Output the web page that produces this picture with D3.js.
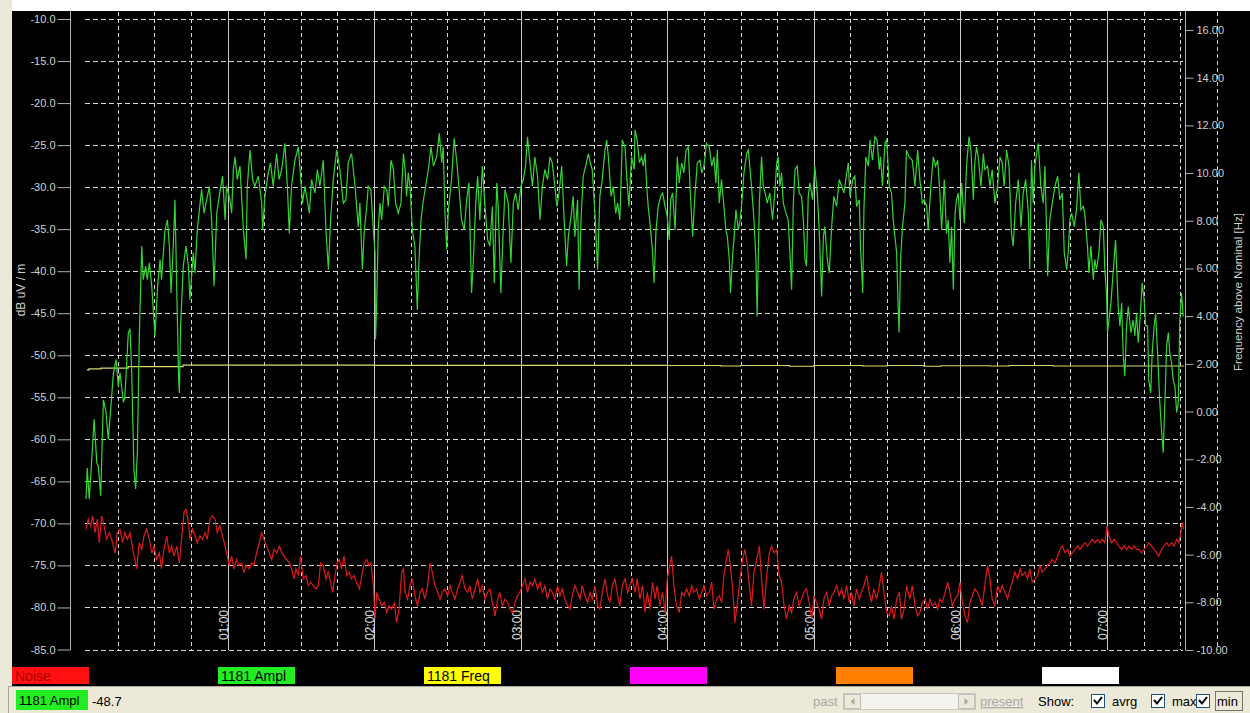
<!DOCTYPE html>
<html>
<head>
<meta charset="utf-8">
<script src="https://cdn.jsdelivr.net/npm/d3@7"></script>
<style>
  body { margin: 0; background: #fff; }
  text { font-family: "Liberation Sans", Arial, sans-serif; }
</style>
</head>
<body>
<div id="graph"></div>
<script>
const width = 1250;
const height = 713;

// minutes after 00:00, dB uV/m
const amplData = [
  [2.1,-67.1],[2.6,-63.4],[3.4,-67.1],[4.1,-64.0],[5.4,-57.6],[6.5,-62.8],[7.1,-63.2],[8.1,-66.7],[9.2,-55.3],[10.3,-56.8],
  [11.2,-60.0],[12.2,-56.4],[13.3,-52.1],[14.4,-50.5],[15.3,-53.7],[16.0,-52.1],[17.4,-55.6],[18.0,-54.9],[19.4,-47.3],[20.1,-46.9],
  [20.8,-52.1],[21.7,-63.6],[22.4,-65.9],[23.1,-61.6],[23.9,-47.7],[24.9,-37.0],[25.5,-41.0],[26.5,-39.4],[27.2,-41.0],[28.0,-39.0],
  [29.0,-41.8],[30.3,-47.7],[31.4,-41.8],[32.4,-38.6],[33.0,-41.0],[34.4,-35.1],[35.4,-33.9],[36.2,-37.0],[36.9,-42.6],[37.8,-37.0],
  [38.5,-31.5],[39.2,-41.8],[40.0,-52.9],[40.3,-54.5],[40.8,-46.5],[41.9,-39.4],[43.0,-37.0],[44.0,-39.4],[44.6,-43.4],[46.0,-37.8],
  [46.7,-40.2],[47.6,-35.1],[49.4,-30.3],[50.4,-33.1],[51.2,-31.9],[52.6,-29.9],[53.5,-33.9],[54.5,-41.8],[55.6,-33.1],[56.6,-31.1],
  [58.0,-28.7],[59.0,-33.9],[59.6,-29.9],[61.0,-31.5],[61.7,-33.1],[62.4,-27.9],[63.1,-26.4],[64.0,-29.1],[65.1,-27.5],[66.5,-35.1],
  [67.6,-38.6],[68.1,-29.9],[69.2,-25.6],[70.3,-29.1],[71.2,-29.9],[72.6,-28.7],[74.0,-31.9],[74.4,-35.1],[75.3,-31.1],[76.7,-28.3],
  [77.6,-27.1],[78.7,-29.9],[80.1,-26.0],[81.1,-29.1],[82.2,-27.9],[83.5,-24.8],[84.5,-29.9],[85.3,-35.5],[86.2,-29.9],[87.6,-26.8],
  [89.0,-25.2],[90.7,-31.9],[91.7,-29.9],[93.5,-33.1],[94.4,-29.1],[95.8,-30.7],[96.8,-27.9],[97.8,-29.9],[99.2,-26.8],[100.3,-35.1],
  [101.3,-39.8],[102.2,-33.9],[103.3,-29.1],[104.7,-25.6],[106.0,-27.9],[107.4,-31.9],[108.5,-31.5],[109.4,-27.1],[110.8,-26.0],[112.2,-29.9],
  [113.5,-34.7],[114.2,-31.9],[115.2,-39.8],[116.0,-35.1],[117.0,-32.3],[117.6,-29.9],[118.7,-30.3],[119.7,-35.1],[120.4,-37.8],[120.6,-48.1],
  [121.1,-43.4],[121.7,-35.1],[122.4,-31.9],[123.1,-33.9],[124.2,-29.9],[125.2,-30.3],[125.8,-32.3],[126.9,-26.8],[127.9,-27.9],[128.8,-31.9],
  [129.9,-33.1],[131.0,-31.9],[132.0,-26.0],[132.7,-27.9],[133.3,-31.1],[134.0,-28.3],[134.7,-29.9],[135.7,-35.1],[136.7,-37.0],[137.7,-44.6],
  [138.4,-38.6],[139.2,-33.9],[140.2,-31.5],[141.1,-29.9],[142.2,-27.9],[143.3,-25.2],[144.3,-27.5],[145.6,-26.4],[146.7,-23.6],[147.7,-27.1],
  [148.3,-25.2],[149.0,-33.1],[149.7,-37.4],[150.4,-32.7],[151.7,-29.1],[152.8,-24.2],[153.8,-26.8],[154.7,-29.9],[155.8,-33.9],[156.9,-35.1],
  [157.9,-31.5],[158.8,-29.5],[159.9,-42.6],[160.6,-39.0],[161.6,-31.9],[162.4,-28.7],[163.3,-33.9],[164.3,-27.5],[165.4,-32.3],[166.5,-36.3],
  [167.4,-37.0],[168.4,-32.3],[169.2,-41.4],[170.2,-29.5],[170.8,-32.3],[171.9,-42.6],[172.9,-34.7],[173.6,-30.3],[174.9,-31.9],[176.0,-39.0],
  [177.0,-31.9],[177.9,-30.7],[179.0,-32.7],[180.1,-29.9],[181.1,-29.1],[182.0,-27.5],[182.8,-24.0],[183.8,-27.1],[184.8,-29.9],[185.8,-26.4],
  [186.9,-28.7],[187.9,-33.9],[188.9,-29.9],[189.9,-27.9],[191.0,-29.1],[192.0,-26.4],[192.9,-27.1],[194.0,-29.9],[194.8,-32.3],[195.7,-30.7],
  [196.8,-27.5],[197.8,-33.9],[198.8,-39.4],[199.5,-35.9],[200.6,-33.5],[201.5,-31.1],[202.2,-35.9],[203.3,-31.5],[203.9,-42.2],[204.7,-33.9],
  [205.6,-28.7],[206.6,-27.5],[207.7,-26.0],[208.5,-27.1],[209.3,-27.9],[210.4,-33.1],[211.5,-39.8],[212.4,-31.1],[213.4,-29.1],[214.5,-25.6],
  [215.2,-24.4],[215.9,-26.4],[217.0,-31.1],[217.9,-29.9],[218.9,-33.1],[219.7,-31.9],[220.6,-33.9],[221.6,-24.4],[222.7,-25.2],[223.4,-28.7],
  [224.3,-32.3],[225.4,-26.4],[226.5,-27.9],[226.8,-23.2],[227.7,-24.4],[228.6,-27.1],[229.5,-26.4],[230.2,-27.5],[230.9,-26.0],[231.6,-29.9],
  [232.2,-32.3],[233.2,-35.1],[234.0,-37.8],[234.6,-41.4],[235.4,-35.1],[236.3,-32.3],[237.3,-31.1],[238.1,-30.7],[239.1,-32.3],[240.0,-33.5],
  [240.8,-36.3],[241.4,-31.5],[242.2,-30.7],[243.2,-35.1],[244.1,-26.4],[244.9,-29.5],[245.9,-27.1],[246.8,-28.3],[247.7,-25.6],[248.6,-25.2],
  [249.3,-29.9],[250.4,-35.9],[251.3,-31.1],[252.3,-27.1],[253.4,-26.8],[254.1,-28.3],[255.0,-27.5],[256.1,-24.8],[257.2,-25.2],[258.2,-27.5],
  [259.1,-26.4],[259.9,-29.5],[260.5,-25.6],[261.3,-31.9],[262.2,-29.1],[263.2,-32.3],[264.0,-35.1],[264.6,-35.9],[265.4,-38.6],[265.9,-42.6],
  [266.8,-37.8],[267.3,-36.3],[268.1,-32.7],[269.1,-35.1],[269.8,-33.9],[270.4,-32.3],[271.4,-28.3],[272.5,-26.0],[273.2,-25.6],[273.9,-27.9],
  [274.5,-29.9],[275.5,-33.9],[276.3,-38.6],[276.8,-45.4],[277.7,-31.9],[278.6,-26.4],[279.3,-29.9],[280.4,-31.1],[280.9,-31.9],[282.0,-30.7],
  [283.1,-33.9],[284.1,-30.3],[284.8,-27.1],[285.4,-26.4],[286.1,-29.9],[286.8,-28.3],[287.5,-31.9],[288.6,-33.1],[289.5,-33.9],[290.2,-37.8],
  [290.9,-42.2],[291.6,-31.9],[292.3,-27.9],[293.2,-27.5],[294.0,-30.7],[295.0,-31.1],[295.7,-33.9],[296.4,-38.6],[297.0,-39.4],[297.7,-31.1],
  [298.4,-29.5],[299.5,-31.5],[300.4,-27.5],[301.4,-30.7],[302.2,-35.1],[303.2,-43.0],[303.9,-35.9],[304.5,-34.7],[305.5,-38.6],[306.3,-40.2],
  [307.3,-34.7],[308.2,-31.1],[309.3,-32.3],[310.4,-29.1],[311.4,-29.9],[312.3,-30.7],[313.1,-29.1],[314.1,-27.1],[314.8,-31.1],[315.9,-29.1],
  [316.8,-28.7],[317.5,-32.3],[318.6,-31.5],[319.1,-37.0],[320.0,-42.6],[320.5,-32.7],[321.3,-26.4],[322.3,-27.5],[323.0,-24.4],[324.0,-26.8],
  [325.0,-24.0],[325.9,-24.4],[326.8,-27.9],[327.3,-26.4],[328.1,-29.9],[329.1,-24.8],[329.8,-24.4],[330.9,-29.9],[331.8,-30.7],[332.5,-33.9],
  [333.2,-35.9],[333.9,-37.8],[334.5,-44.2],[334.9,-47.3],[335.5,-38.6],[336.3,-34.7],[337.3,-31.9],[337.9,-25.6],[339.0,-26.4],[340.3,-26.8],
  [341.4,-29.9],[342.5,-25.6],[343.4,-29.1],[344.4,-31.9],[345.2,-31.5],[346.2,-32.3],[346.8,-35.1],[347.9,-29.9],[348.9,-26.4],[349.8,-27.5],
  [350.7,-26.8],[351.6,-30.7],[352.3,-35.1],[353.4,-29.1],[354.3,-35.5],[355.0,-33.9],[355.7,-39.0],[356.4,-34.7],[357.1,-42.2],[357.8,-33.1],
  [358.4,-31.5],[359.1,-30.7],[359.8,-33.9],[360.5,-29.5],[361.6,-34.3],[362.5,-27.5],[363.5,-24.0],[364.3,-25.6],[365.3,-31.5],[365.9,-27.1],
  [366.6,-25.2],[367.3,-26.4],[368.4,-29.9],[369.4,-26.0],[370.0,-27.9],[371.1,-27.5],[372.1,-29.9],[373.0,-27.9],[374.1,-31.9],[375.2,-29.9],
  [376.2,-26.4],[377.1,-27.1],[377.9,-29.9],[378.9,-25.6],[379.9,-27.5],[380.9,-35.5],[381.6,-37.0],[382.6,-31.9],[383.7,-29.1],[384.8,-34.7],
  [385.7,-30.7],[386.7,-29.1],[387.8,-33.1],[388.4,-39.8],[389.1,-26.8],[389.8,-31.9],[390.5,-27.5],[391.2,-26.0],[391.9,-24.8],[392.9,-29.9],
  [393.9,-31.9],[394.6,-27.5],[395.7,-40.6],[396.6,-33.9],[397.6,-31.9],[398.7,-29.9],[399.8,-28.7],[400.7,-31.5],[401.7,-30.7],[402.5,-37.8],
  [403.5,-39.8],[404.1,-37.8],[404.8,-33.9],[405.5,-33.1],[406.6,-34.7],[407.5,-32.7],[408.5,-28.3],[409.3,-32.7],[410.3,-32.3],[410.9,-33.1],
  [412.0,-37.0],[412.6,-40.2],[413.4,-37.0],[414.4,-41.0],[415.0,-38.6],[415.7,-39.8],[416.7,-37.8],[417.5,-33.9],[418.5,-34.7],[419.1,-39.8],
  [419.8,-42.6],[420.2,-47.3],[420.8,-45.8],[421.6,-43.8],[422.6,-39.8],[423.5,-36.3],[424.6,-44.2],[425.3,-46.5],[426.0,-43.8],[426.6,-49.7],
  [427.3,-52.5],[428.0,-46.5],[428.7,-44.2],[429.8,-47.3],[430.7,-45.8],[431.4,-47.7],[432.1,-45.0],[432.8,-48.5],[433.5,-45.8],[434.4,-41.4],
  [435.2,-43.4],[435.8,-46.5],[436.6,-46.5],[437.1,-52.9],[437.9,-54.5],[438.5,-49.7],[439.3,-46.5],[439.9,-45.0],[440.7,-49.7],[441.6,-55.6],
  [442.3,-58.8],[443.0,-61.6],[443.7,-55.6],[444.4,-48.9],[445.1,-47.3],[445.7,-49.7],[446.4,-50.9],[447.1,-52.9],[447.8,-53.7],[448.5,-56.8],
  [449.2,-55.6],[449.8,-45.8],[450.5,-42.6],[451.2,-45.4]
];

// minutes after 00:00, dB uV/m
const noiseData = [
  [2.1,-70.7],[3.0,-69.5],[4.0,-70.3],[4.8,-69.1],[5.8,-71.1],[6.7,-69.5],[7.5,-72.3],[8.5,-69.1],[9.5,-70.3],[10.5,-71.9],
  [11.6,-71.1],[12.6,-71.9],[14.0,-73.5],[14.9,-71.1],[16.0,-70.7],[17.1,-72.3],[18.0,-71.1],[19.0,-71.9],[20.1,-71.1],[21.2,-73.1],
  [22.1,-74.3],[22.8,-75.4],[23.9,-72.3],[24.9,-73.1],[25.8,-71.5],[26.9,-70.7],[28.0,-71.9],[29.0,-73.5],[29.9,-72.7],[31.0,-74.3],
  [32.1,-73.5],[33.0,-75.4],[34.0,-73.1],[35.1,-71.5],[36.2,-73.5],[37.1,-72.7],[38.1,-73.9],[39.2,-72.7],[40.3,-74.7],[41.2,-71.9],
  [42.2,-68.7],[43.0,-68.3],[44.0,-69.9],[44.6,-71.9],[45.7,-70.7],[46.7,-71.5],[47.6,-72.3],[48.7,-71.5],[49.8,-71.9],[50.8,-71.1],
  [51.7,-71.9],[52.8,-69.5],[53.9,-69.1],[54.9,-69.5],[55.8,-71.1],[56.9,-70.3],[58.0,-71.5],[59.0,-72.7],[59.9,-73.9],[60.7,-75.0],
  [61.7,-73.9],[62.6,-75.4],[63.7,-74.3],[64.8,-75.0],[65.8,-74.7],[66.7,-75.8],[67.8,-75.0],[68.9,-75.4],[69.9,-74.7],[70.8,-75.0],
  [71.9,-73.5],[73.0,-72.3],[74.0,-71.1],[74.9,-71.9],[76.0,-72.7],[77.1,-73.5],[78.1,-74.3],[79.0,-73.1],[80.1,-73.5],[81.2,-72.7],
  [82.2,-73.5],[83.1,-73.9],[84.2,-74.3],[85.3,-74.7],[86.2,-75.4],[87.2,-76.6],[88.0,-75.4],[89.0,-76.2],[89.9,-73.9],[91.0,-76.6],
  [92.1,-76.2],[93.1,-77.4],[94.0,-77.0],[95.1,-77.4],[96.2,-77.8],[97.2,-77.4],[98.1,-74.7],[99.2,-75.0],[100.3,-76.6],[101.2,-75.8],
  [102.2,-77.0],[103.0,-78.2],[104.0,-76.2],[104.9,-74.7],[105.8,-74.3],[106.7,-75.4],[107.7,-73.9],[108.8,-76.2],[109.8,-75.8],[110.8,-76.6],
  [111.8,-76.2],[112.8,-77.0],[114.0,-77.8],[115.2,-75.8],[116.0,-74.7],[117.0,-74.3],[117.9,-75.0],[118.7,-74.7],[119.7,-77.4],[120.4,-81.4],
  [121.1,-78.2],[122.0,-79.0],[123.1,-79.8],[124.2,-79.4],[125.2,-80.6],[126.1,-79.8],[127.2,-80.2],[128.3,-79.4],[129.2,-81.8],[130.2,-80.2],
  [131.3,-75.8],[132.0,-75.4],[132.7,-78.2],[133.7,-79.0],[134.7,-77.4],[135.7,-76.6],[136.7,-78.6],[137.8,-79.8],[138.8,-78.2],[139.7,-77.8],
  [140.8,-79.0],[141.9,-77.4],[142.9,-74.7],[143.8,-75.8],[144.9,-77.4],[146.0,-78.2],[147.0,-79.0],[147.9,-78.2],[149.0,-77.8],[150.1,-78.6],
  [151.1,-77.4],[152.0,-78.2],[153.1,-79.0],[154.2,-77.8],[155.2,-77.0],[156.1,-76.2],[157.2,-77.8],[158.3,-78.2],[159.2,-77.4],[160.2,-79.0],
  [161.3,-77.8],[162.4,-76.6],[163.3,-78.2],[164.3,-77.4],[165.4,-79.0],[166.5,-78.2],[167.4,-77.8],[168.4,-79.4],[169.5,-81.0],[170.6,-79.0],
  [171.5,-78.2],[172.5,-79.8],[173.6,-79.0],[174.7,-79.4],[175.6,-80.2],[176.6,-80.6],[177.7,-79.4],[178.7,-78.6],[179.7,-78.2],[180.7,-77.4],
  [181.8,-76.6],[182.8,-78.2],[183.8,-77.0],[184.8,-77.4],[185.8,-76.6],[186.9,-77.8],[187.9,-77.0],[188.9,-78.2],[189.9,-77.4],[191.0,-79.0],
  [192.0,-77.8],[192.9,-78.2],[194.0,-79.0],[195.1,-77.4],[196.1,-78.6],[197.0,-77.8],[198.1,-79.0],[199.2,-79.8],[200.2,-80.2],[201.1,-78.6],
  [202.2,-77.4],[203.3,-78.2],[204.3,-79.0],[205.2,-77.4],[206.3,-78.6],[207.4,-79.4],[208.4,-78.2],[209.3,-79.0],[210.4,-77.4],[211.5,-79.8],
  [212.4,-80.2],[213.4,-78.2],[214.5,-76.6],[215.6,-78.6],[216.5,-79.4],[217.5,-77.4],[218.6,-76.6],[219.7,-78.6],[220.6,-79.8],[221.6,-77.4],
  [222.7,-76.6],[223.8,-78.2],[224.7,-77.4],[225.7,-76.6],[226.8,-78.2],[227.7,-76.6],[228.8,-79.0],[229.9,-77.4],[230.9,-80.6],[231.8,-78.2],
  [232.9,-80.2],[234.0,-77.0],[235.0,-79.0],[235.9,-77.4],[237.0,-79.8],[238.1,-78.2],[239.1,-80.6],[240.0,-76.6],[240.8,-75.4],[241.8,-73.9],
  [242.7,-77.4],[243.8,-79.8],[244.9,-80.6],[245.9,-78.2],[246.8,-78.6],[247.9,-77.8],[249.0,-78.6],[250.0,-77.4],[250.9,-78.2],[252.0,-77.8],
  [253.1,-79.0],[254.1,-78.2],[255.0,-77.4],[256.1,-78.6],[257.2,-78.2],[258.2,-77.0],[259.1,-80.2],[260.2,-79.0],[261.3,-78.6],[262.3,-79.4],
  [263.2,-76.2],[264.0,-74.7],[265.0,-73.1],[265.7,-74.7],[266.8,-77.8],[267.7,-81.8],[268.7,-79.4],[269.8,-76.6],[270.8,-74.3],[271.8,-73.1],
  [272.8,-75.0],[273.6,-77.4],[274.5,-79.8],[275.5,-75.8],[276.6,-74.3],[277.7,-72.7],[278.6,-76.6],[279.6,-80.2],[280.7,-76.2],[281.8,-73.5],
  [282.7,-72.7],[283.7,-73.5],[284.8,-73.1],[285.8,-76.2],[286.8,-77.0],[287.8,-79.8],[288.8,-81.4],[289.9,-79.8],[290.9,-80.6],[291.8,-79.0],
  [292.9,-78.2],[294.0,-79.8],[295.0,-79.0],[295.9,-78.2],[297.0,-77.8],[298.1,-79.4],[299.1,-81.4],[300.0,-78.6],[301.1,-79.4],[302.2,-80.2],
  [303.2,-81.4],[304.1,-79.0],[305.2,-78.2],[306.3,-79.8],[307.3,-78.6],[308.2,-78.2],[309.3,-77.4],[310.4,-78.6],[311.4,-77.8],[312.3,-79.0],
  [313.4,-77.4],[314.5,-79.4],[315.4,-78.2],[316.4,-79.8],[317.5,-77.8],[318.6,-79.0],[319.5,-78.2],[320.5,-77.4],[321.6,-76.2],[322.7,-78.2],
  [323.6,-79.4],[324.6,-77.8],[325.7,-79.0],[326.8,-77.4],[327.7,-75.8],[328.7,-78.2],[329.8,-80.6],[330.9,-81.0],[331.8,-79.8],[332.8,-81.4],
  [333.9,-79.0],[335.0,-78.2],[335.9,-81.4],[336.9,-80.2],[338.0,-77.4],[339.3,-79.0],[340.3,-77.4],[341.4,-79.8],[342.5,-81.0],[343.4,-80.6],
  [344.4,-79.4],[345.5,-79.0],[346.6,-80.2],[347.5,-79.0],[348.5,-79.8],[349.6,-79.4],[350.7,-80.2],[351.6,-79.0],[352.6,-79.4],[353.7,-78.2],
  [354.8,-77.0],[355.7,-78.2],[356.7,-79.8],[357.8,-79.0],[358.9,-78.6],[359.8,-77.0],[360.8,-79.4],[361.9,-81.0],[362.9,-81.8],[363.9,-79.4],
  [364.9,-78.6],[365.9,-77.8],[367.0,-78.2],[368.0,-79.0],[368.9,-79.8],[370.0,-77.4],[371.1,-75.0],[372.1,-76.6],[373.0,-79.0],[374.1,-79.8],
  [375.2,-77.4],[376.2,-78.2],[377.1,-77.4],[378.2,-78.2],[379.3,-79.0],[380.3,-77.8],[381.2,-77.0],[382.3,-75.8],[383.4,-76.6],[384.4,-75.4],
  [385.3,-76.2],[386.4,-75.8],[387.5,-76.6],[388.4,-75.4],[389.4,-77.0],[390.5,-76.6],[391.6,-76.2],[392.5,-75.0],[393.5,-75.8],[394.6,-75.4],
  [395.7,-75.0],[396.6,-74.7],[397.6,-74.3],[398.7,-74.7],[399.8,-73.9],[400.7,-73.1],[401.7,-72.7],[402.8,-73.5],[403.9,-73.1],[404.8,-73.9],
  [405.8,-73.5],[406.9,-73.1],[408.0,-72.7],[408.9,-73.1],[409.9,-72.7],[410.9,-72.3],[412.0,-72.7],[413.0,-72.3],[414.0,-71.9],[415.0,-72.3],
  [416.1,-71.9],[417.1,-72.3],[418.0,-71.9],[419.1,-72.3],[420.0,-70.3],[420.8,-71.5],[421.9,-72.3],[423.0,-71.9],[423.9,-72.3],[424.9,-72.7],
  [426.0,-73.1],[427.1,-72.7],[428.0,-73.1],[429.0,-72.7],[430.1,-73.1],[431.1,-72.7],[432.1,-73.1],[433.1,-73.1],[434.1,-73.5],[435.2,-73.1],
  [436.2,-72.7],[437.1,-72.3],[438.2,-72.7],[439.3,-73.1],[440.3,-73.5],[441.2,-73.9],[442.3,-73.1],[443.4,-72.7],[444.4,-72.3],[445.3,-72.7],
  [446.4,-72.3],[447.5,-72.7],[448.5,-71.9],[449.4,-72.3],[450.2,-71.1],[450.8,-69.9],[451.3,-70.7]
];

// minutes after 00:00, Hz above nominal
const freqData = [
  [2.5,1.75],[3.3,1.79],[8.2,1.82],[19.3,1.88],[41.8,1.95],[120,1.94],[240,1.93],[262,1.91],[270,1.93],
  [290,1.90],[300,1.93],[320,1.91],[330,1.93],[345,1.90],[352,1.92],[372,1.91],[380,1.93],[398,1.91],[451.3,1.92]
];

const leftTicks = [-10, -15, -20, -25, -30, -35, -40, -45, -50, -55, -60, -65, -70, -75, -80, -85];
const rightTicks = [16, 14, 12, 10, 8, 6, 4, 2, 0, -2, -4, -6, -8, -10];
const hourTicks = [1, 2, 3, 4, 5, 6, 7];
const legendNames = ["Noise", "1181 Ampl", "1181 Freq", "", "", ""];
const legendColors = ["#ff1010", "#22ee22", "#ffff00", "#ff00ff", "#ff8000", "#ffffff"];
const legendText = ["#a80000", "#000", "#000", "#000", "#000", "#000"];

const base = new Date(2000, 0, 1, 0, 0);
const toDate = m => new Date(base.getTime() + m * 60000);

const x = d3.scaleTime()
  .domain([toDate(60), toDate(420)])
  .range([227.5, 1107]);
const yL = d3.scaleLinear().domain([-85, -10]).range([649.5, 19]);
const yR = d3.scaleLinear().domain([-10, 16]).range([650, 30]);

const svg = d3.select('#graph').append('svg')
  .attr('width', width).attr('height', height)
  .style('display', 'block');

// window frame
svg.append('rect').attr('x', 0).attr('y', 0).attr('width', width).attr('height', height).attr('fill', '#fff');
svg.append('rect').attr('x', 0).attr('y', 0).attr('width', 12).attr('height', height).attr('fill', '#ece9d8');
svg.append('rect').attr('x', 12).attr('y', 11).attr('width', width - 12).attr('height', 676).attr('fill', '#000');

// grid
const grid = svg.append('g');
grid.selectAll('.hline').data(leftTicks).join('line')
  .attr('x1', 85).attr('x2', 1183)
  .attr('y1', d => Math.round(yL(d)) + 0.5).attr('y2', d => Math.round(yL(d)) + 0.5)
  .attr('stroke', '#d8d8d8').attr('stroke-dasharray', '5,3');

const quarterTimes = d3.timeMinute.every(15).range(toDate(15), toDate(466));
grid.selectAll('.vline').data(quarterTimes.filter(t => t.getMinutes() !== 0)).join('line')
  .attr('x1', d => Math.round(x(d)) + 0.5).attr('x2', d => Math.round(x(d)) + 0.5)
  .attr('y1', 12).attr('y2', 650)
  .attr('stroke', '#d8d8d8').attr('stroke-dasharray', '4,3');
grid.selectAll('.hour').data(hourTicks).join('line')
  .attr('x1', d => Math.round(x(toDate(d * 60))) + 0.5).attr('x2', d => Math.round(x(toDate(d * 60))) + 0.5)
  .attr('y1', 11).attr('y2', 650)
  .attr('stroke', '#c8c8c8');

// axes
const leftAxis = svg.append('g').attr('transform', 'translate(70.5,0)')
  .call(d3.axisLeft(yL).tickValues(leftTicks).tickSize(13).tickSizeOuter(0).tickPadding(2)
    .tickFormat(d => d.toFixed(1)));
const rightAxis = svg.append('g').attr('transform', 'translate(1185.5,0)')
  .call(d3.axisRight(yR).tickValues(rightTicks).tickSize(8).tickSizeOuter(0).tickPadding(3)
    .tickFormat(d => d.toFixed(2)));
[leftAxis, rightAxis].forEach(a => {
  a.select('.domain').remove();
  a.selectAll('line').attr('stroke', '#b0b0b0');
  a.selectAll('text').attr('fill', '#d0d0d0').style('font-size', '11px')
    .style('font-family', '"Liberation Sans", Arial, sans-serif');
});
svg.append('line').attr('x1', 70.5).attr('x2', 70.5).attr('y1', 11).attr('y2', 650).attr('stroke', '#b0b0b0');
svg.append('line').attr('x1', 1185.5).attr('x2', 1185.5).attr('y1', 11).attr('y2', 650).attr('stroke', '#b0b0b0');

svg.append('text').attr('transform', 'translate(25,290) rotate(-90)')
  .attr('text-anchor', 'middle').attr('fill', '#d0d0d0').style('font-size', '12px')
  .text('dB uV / m');
svg.append('text').attr('transform', 'translate(1242,292) rotate(-90)')
  .attr('text-anchor', 'middle').attr('fill', '#d0d0d0').style('font-size', '11.5px')
  .text('Frequency above Nominal [Hz]');

svg.selectAll('.hourlabel').data(hourTicks).join('text')
  .attr('transform', d => `translate(${Math.round(x(toDate(d * 60))) - 0.5},640) rotate(-90)`)
  .attr('fill', '#e0e0e0').style('font-size', '12px')
  .text(d => d3.timeFormat('%H:%M')(toDate(d * 60)));

// series
const lineL = d3.line().x(d => x(toDate(d[0]))).y(d => yL(d[1]));
const lineR = d3.line().x(d => x(toDate(d[0]))).y(d => yR(d[1])).curve(d3.curveStepAfter);

svg.append('path').datum(freqData).attr('d', lineR)
  .attr('fill', 'none').attr('stroke', '#dcd870').attr('stroke-width', 1.2);
svg.append('path').datum(amplData).attr('d', lineL)
  .attr('fill', 'none').attr('stroke', '#35d435').attr('stroke-width', 1.2);
svg.append('path').datum(noiseData).attr('d', lineL)
  .attr('fill', 'none').attr('stroke', '#dc1a1a').attr('stroke-width', 1.2);

// legend strip
const legend = svg.append('g').selectAll('g').data(legendNames).join('g')
  .attr('transform', (d, i) => `translate(${12 + i * 206},667)`);
legend.append('rect').attr('width', 77).attr('height', 17).attr('fill', (d, i) => legendColors[i]);
legend.append('text').attr('x', 3).attr('y', 14).style('font-size', '14px')
  .attr('fill', (d, i) => legendText[i]).text(d => d);

// status bar
const bar = svg.append('g');
bar.append('rect').attr('x', 0).attr('y', 686).attr('width', width).attr('height', 27).attr('fill', '#ece9d8');
bar.append('line').attr('x1', 8).attr('x2', width).attr('y1', 686.5).attr('y2', 686.5).attr('stroke', '#a8a8a0');
bar.append('line').attr('x1', 8.5).attr('x2', 8.5).attr('y1', 686).attr('y2', 713).attr('stroke', '#a8a8a0');
bar.append('rect').attr('x', 16).attr('y', 690).attr('width', 72).attr('height', 20).attr('fill', '#22ee22');
bar.append('text').attr('x', 19).attr('y', 705).style('font-size', '13px').attr('fill', '#000').text('1181 Ampl');
bar.append('text').attr('x', 92).attr('y', 706).style('font-size', '13px').attr('fill', '#000').text('-48.7');

bar.append('text').attr('x', 813).attr('y', 706).style('font-size', '13px').attr('fill', '#a8a8a8').text('past');
bar.append('rect').attr('x', 843.5).attr('y', 693.5).attr('width', 132).attr('height', 16)
  .attr('fill', '#f4f3ee').attr('stroke', '#c8c8c0');
[844, 958].forEach((bx, i) => {
  bar.append('rect').attr('x', bx + 0.5).attr('y', 694.5).attr('width', 16).attr('height', 14)
    .attr('fill', '#ece9d8').attr('stroke', '#c0c0b8');
  const cx = bx + 8.5;
  const pts = i === 0 ? [[cx + 2, 698], [cx - 2, 701.5], [cx + 2, 705]] : [[cx - 2, 698], [cx + 2, 701.5], [cx - 2, 705]];
  bar.append('path').attr('d', d3.line()(pts) + 'Z').attr('fill', '#a8a8a8');
});
bar.append('text').attr('x', 980).attr('y', 706).style('font-size', '13px').attr('fill', '#a8a8a8')
  .style('text-decoration', 'underline').text('present');
bar.append('text').attr('x', 1038).attr('y', 706).style('font-size', '13px').attr('fill', '#000').text('Show:');

const checks = [["avrg", 1091], ["max", 1151], ["min", 1196]];
checks.forEach(([label, cx]) => {
  bar.append('rect').attr('x', cx + 0.5).attr('y', 694.5).attr('width', 13).attr('height', 13)
    .attr('fill', '#fff').attr('stroke', '#1c5180');
  bar.append('path').attr('d', `M${cx + 3},${700} L${cx + 6},${703.5} L${cx + 11},${697}`)
    .attr('fill', 'none').attr('stroke', '#000').attr('stroke-width', 2);
  bar.append('text').attr('x', cx + 21).attr('y', 706).style('font-size', '13px').attr('fill', '#000').text(label);
});
bar.append('rect').attr('x', 1215.5).attr('y', 691.5).attr('width', 27).attr('height', 19)
  .attr('fill', 'none').attr('stroke', '#000').attr('stroke-dasharray', '1,1');
</script>
</body>
</html>
